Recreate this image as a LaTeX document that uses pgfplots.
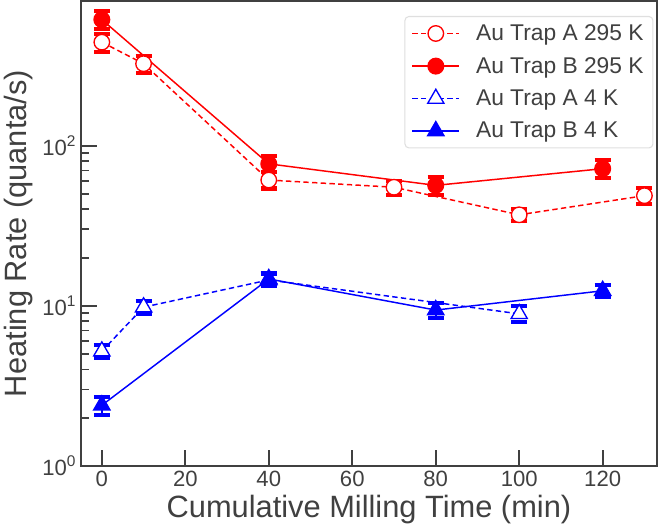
\documentclass[border=0pt]{standalone}
\usepackage{fontspec}
\setmainfont{Liberation Sans}
\usepackage{pgfplots}
\pgfplotsset{compat=1.18}
\definecolor{axgray}{HTML}{404040}

\begin{document}
\begin{tikzpicture}
\begin{semilogyaxis}[
    scale only axis, width=430pt, height=347pt,
    xmin=-5, xmax=133, ymin=1, ymax=800,
    xtick={0,20,...,120},
    ytick={1,10,100},
    yticklabels={10\textsuperscript{0},10\textsuperscript{1},10\textsuperscript{2}},
    tick align=inside,
    xtick pos=bottom, ytick pos=left,
    axis line style={axgray, line width=1.6pt},
    every tick/.style={axgray, line width=1.4pt},
    major tick length=12pt, minor tick length=6pt,
    /pgf/number format/assume math mode=true,
    tick label style={font=\fontsize{16.5}{18}\selectfont, text=axgray},
    label style={font=\fontsize{23}{26}\selectfont, text=axgray},
    xlabel={Cumulative Milling Time (min)},
    ylabel={Heating Rate (quanta/s)},
    legend cell align=left,
    legend style={at={(0.994,0.968)}, anchor=north east, draw=gray!25,
      line width=0.8pt,
      rounded corners=3pt, font=\fontsize{17}{18}\selectfont, text=axgray,
      row sep=7pt, inner xsep=5pt, inner ysep=4pt,
      /tikz/every odd column/.append style={column sep=10pt}},
    legend image code/.code={\draw[mark repeat=2,mark phase=2]
      plot coordinates {(0pt,0pt)(17.5pt,0pt)(35pt,0pt)};},
    every axis plot/.append style={line width=1.1pt},
    error bars/y dir=both, error bars/y explicit,
    error bars/error mark=|,
    error bars/error bar style={line width=1.2pt},
    error bars/error mark options={line width=3pt, mark size=6pt},
]
% Au Trap A 295 K
\addplot[red, dash pattern=on 4pt off 2.5pt, mark=*, mark size=5.8pt,
  mark options={solid, fill=white, line width=1pt}]
  coordinates {(0,443) +- (0,56) (10,325) +- (0,40) (40,61) +- (0,7)
               (70,55) +- (0,5.5) (100,37) +- (0,3.3) (130,48.7) +- (0,5.4)};
% Au Trap B 295 K
\addplot[red, mark=*, mark size=5.8pt, mark options={fill=red}]
  coordinates {(0,613) +- (0,78) (40,77) +- (0,9) (80,56.5) +- (0,7.5)
               (120,71.8) +- (0,9)};
% Au Trap A 4 K
\addplot[blue, dash pattern=on 4pt off 2.5pt, mark=triangle*, mark size=7pt,
  mark options={solid, fill=white, line width=1pt}]
  coordinates {(0,5.2) +- (0,0.45) (10,9.8) +- (0,0.95) (40,14.5) +- (0,1.3)
               (100,8.9) +- (0,1.0)};
% Au Trap B 4 K
\addplot[blue, mark=triangle*, mark size=7pt, mark options={fill=blue}]
  coordinates {(0,2.39) +- (0,0.3) (40,14.7) +- (0,1.4) (80,9.4) +- (0,1.0)
               (120,12.4) +- (0,1.1)};
\legend{Au Trap A 295 K, Au Trap B 295 K, Au Trap A 4 K, Au Trap B 4 K}
\end{semilogyaxis}
\end{tikzpicture}
\end{document}
